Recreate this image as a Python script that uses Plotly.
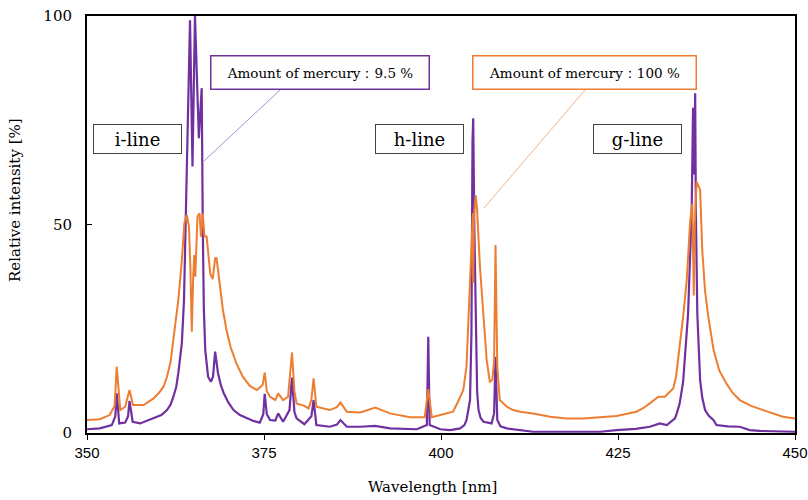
import plotly.graph_objects as go

# Spectrum, amount of mercury 9.5 % (purple)
wl_low = [350.0, 351.8, 353.5, 354.0, 354.2, 354.55, 355.4, 355.8, 356.0, 356.45, 357.5, 359.4, 360.5, 361.3,
          361.8, 362.2, 362.6, 362.9, 363.4, 363.7, 364.0, 364.55, 364.9, 365.25, 365.8, 366.2, 366.35, 366.5,
          366.7, 367.1, 367.5, 367.8, 368.1, 368.5, 368.9, 369.3, 370.0, 370.7, 371.6, 372.6, 373.5, 374.4,
          374.9, 375.1, 375.4, 375.85, 376.6, 377.0, 377.7, 378.6, 378.95, 379.3, 379.6, 380.7, 381.7, 382.0,
          382.4, 384.3, 385.3, 385.8, 386.7, 388.6, 390.7, 392.8, 396.6, 398.0, 398.2, 398.4, 399.9, 401.3,
          402.7, 403.3, 403.6, 404.1, 404.3, 404.45, 404.55, 404.7, 404.9, 405.1, 405.3, 405.6, 406.0,
          407.15, 407.5, 407.7, 407.95, 408.4, 409.3, 411.2, 413.0, 415.4, 422.5, 424.8, 427.5, 429.5,
          430.9, 431.9, 433.05, 433.3, 433.7, 434.2, 434.9, 435.4, 435.6, 435.75, 435.9, 436.0, 436.2,
          436.6, 436.9, 437.3, 437.8, 438.5, 438.9, 440.5, 442.2, 443.6, 445.0, 450.0]
int_low = [0.9, 1.1, 1.9, 4.0, 9.5, 2.3, 2.5, 4.0, 7.7, 2.7, 2.3, 3.5, 4.3, 5.5,
           6.8, 8.7, 11.0, 14.4, 21.6, 31.9, 55.9, 99.0, 63.9, 100.0, 70.7, 82.7, 50.0, 30.0,
           19.9, 13.5, 12.3, 13.5, 19.5, 14.4, 11.5, 9.6, 7.2, 5.5, 4.3, 3.5, 2.9, 2.5,
           4.5, 9.4, 4.5, 3.1, 3.0, 4.7, 2.7, 5.5, 13.3, 5.0, 3.5, 2.1, 4.0, 7.9,
           1.9, 1.5, 2.0, 3.1, 1.5, 1.5, 1.7, 1.1, 0.9, 1.9, 23.1, 1.9, 0.9, 0.7,
           1.1, 1.9, 3.1, 7.9, 24.0, 70.0, 75.5, 50.0, 24.0, 10.0, 5.5, 3.6, 2.7,
           2.3, 4.7, 18.3, 3.1, 1.6, 1.1, 0.7, 0.3, 0.3, 0.3, 0.7, 1.0, 1.5,
           2.3, 1.9, 3.5, 4.7, 7.0, 12.3, 28.7, 52.7, 78.0, 62.0, 81.5, 52.7, 28.7,
           12.7, 8.5, 5.5, 4.2, 3.1, 1.9, 1.6, 1.5, 0.7, 0.5, 0.3]

# Spectrum, amount of mercury 100 % (orange)
wl_high = [350.0, 351.8, 353.2, 353.9, 354.2, 354.7, 355.4, 356.0, 356.5, 358.0, 359.4, 360.2, 360.8, 361.3,
           361.8, 362.2, 362.9, 363.4, 363.75, 364.1, 364.4, 364.6, 364.8, 365.0, 365.15, 365.3, 365.6,
           365.9, 366.1, 366.35, 366.6, 366.9, 367.4, 367.75, 368.1, 368.3, 368.8, 369.2, 369.7, 370.3,
           371.1, 372.0, 373.0, 374.0, 374.8, 375.1, 375.4, 375.85, 376.6, 377.0, 377.7, 378.4, 378.95,
           379.3, 379.6, 380.7, 381.3, 381.7, 382.0, 382.4, 384.3, 385.3, 385.8, 386.7, 388.6, 390.7,
           392.8, 395.6, 397.7, 398.2, 398.7, 399.9, 401.7, 402.4, 403.15, 403.6, 404.0, 404.3, 404.5,
           404.55, 404.65, 404.9, 405.1, 405.5, 406.0, 406.45, 406.9, 407.25, 407.5, 407.7, 407.95,
           408.3, 409.3, 410.2, 411.2, 413.0, 415.4, 417.75, 420.1, 422.5, 424.8, 427.6, 428.6, 429.5,
           430.7, 431.6, 432.8, 433.2, 433.5, 434.2, 434.7, 435.2, 435.5, 435.7, 435.85, 436.1, 436.6,
           436.9, 437.3, 437.75, 438.5, 439.3, 440.3, 441.2, 442.2, 443.8, 445.5, 448.3, 450.0]
int_high = [3.1, 3.3, 4.3, 6.5, 15.9, 5.5, 6.3, 10.3, 6.7, 6.7, 8.3, 9.7, 11.1, 13.5,
            17.0, 22.3, 31.9, 41.5, 50.3, 52.3, 49.5, 39.9, 24.3, 37.5, 42.7, 37.5, 51.9,
            52.7, 47.1, 52.7, 47.1, 47.1, 38.3, 36.9, 41.9, 41.9, 34.3, 29.5, 24.7, 20.5,
            16.7, 13.5, 11.3, 10.3, 11.5, 14.5, 10.0, 8.7, 7.9, 9.5, 7.9, 8.7, 19.3,
            10.0, 7.1, 6.5, 5.9, 8.0, 13.1, 6.3, 5.5, 6.2, 7.3, 5.1, 4.9, 6.1,
            4.7, 3.8, 3.8, 10.5, 3.8, 4.3, 5.1, 7.5, 10.3, 15.9, 31.9, 47.9, 52.7,
            36.0, 52.0, 57.0, 53.5, 39.9, 27.9, 17.5, 12.3, 12.7, 17.5, 45.1, 15.9,
            7.9, 6.3, 5.5, 5.1, 4.7, 3.9, 3.5, 3.5, 3.8, 4.1, 5.1, 6.0, 7.1,
            8.7, 8.7, 10.7, 13.5, 17.5, 27.9, 36.5, 51.0, 55.0, 33.0, 50.0, 60.3, 58.3,
            43.9, 34.0, 27.9, 19.9, 15.0, 11.9, 9.6, 7.9, 6.5, 5.5, 3.9, 3.5]

x_ticks = [350, 375, 400, 425, 450]
y_ticks = [0, 50, 100]
line_labels = ["i-line", "h-line", "g-line"]
series_labels = ["Amount of mercury：9.5 %", "Amount of mercury：100 %"]

PURPLE = "#7030A0"
ORANGE = "#ED7D31"
SERIF = "DejaVu Serif"

fig = go.Figure()
fig.add_trace(go.Scatter(x=wl_low, y=int_low, mode="lines", line=dict(color=PURPLE, width=2.2),
                         name=series_labels[0], showlegend=False))
fig.add_trace(go.Scatter(x=wl_high, y=int_high, mode="lines", line=dict(color=ORANGE, width=2),
                         name=series_labels[1], showlegend=False))

L, R, T, B = 87, 795, 16, 433
W, H = R - L, B - T

def px(xp):
    return (xp - L) / W

def py(yp):
    return (B - yp) / H

annotations = []
for label, cx in zip(line_labels, [137, 419.4, 637.3]):
    annotations.append(dict(x=px(cx), y=py(139), xref="paper", yref="paper", text=label,
                            showarrow=False, font=dict(family=SERIF, size=18, color="black"),
                            bgcolor="white", bordercolor="#444", borderwidth=1, borderpad=0,
                            width=87, height=28, xanchor="center", yanchor="middle"))
for label, cx, w, col in [(series_labels[0], 320.4, 217, PURPLE), (series_labels[1], 584.7, 222, ORANGE)]:
    annotations.append(dict(x=px(cx), y=py(72.5), xref="paper", yref="paper", text=label,
                            showarrow=False, font=dict(family=SERIF, size=13.5, color="black"),
                            bgcolor="white", bordercolor=col, borderwidth=1.5, borderpad=0,
                            width=w, height=32, xanchor="center", yanchor="middle"))
annotations.append(dict(x=px(15), y=py(200), xref="paper", yref="paper", text="Relative intensity [%]",
                        textangle=-90, showarrow=False, font=dict(family=SERIF, size=15, color="black"),
                        xanchor="center", yanchor="middle"))
annotations.append(dict(x=px(432), y=py(487), xref="paper", yref="paper", text="Wavelength [nm]",
                        showarrow=False, font=dict(family=SERIF, size=15, color="black"),
                        xanchor="center", yanchor="middle"))

shapes = [
    dict(type="line", xref="paper", yref="paper", x0=px(280), y0=py(90), x1=px(204), y1=py(161),
         line=dict(color="rgba(112,48,160,0.55)", width=1)),
    dict(type="line", xref="paper", yref="paper", x0=px(585), y0=py(90), x1=px(484), y1=py(208),
         line=dict(color="rgba(237,125,49,0.6)", width=1)),
]

fig.update_layout(
    template="none",
    width=808, height=500,
    margin=dict(l=L, r=808 - R, t=T, b=500 - B, pad=0, autoexpand=False),
    paper_bgcolor="white", plot_bgcolor="white",
    annotations=annotations, shapes=shapes,
    xaxis=dict(range=[350, 450], tickvals=x_ticks, ticktext=[str(v) for v in x_ticks],
               automargin=False,
               showgrid=False, zeroline=False, showline=True, linecolor="black", linewidth=2,
               mirror=True, ticks="outside", ticklen=5, tickcolor="black", tickwidth=1,
               tickfont=dict(family="Liberation Sans", size=15, color="black")),
    yaxis=dict(range=[0, 100], tickvals=y_ticks, ticktext=[str(v) for v in y_ticks],
               automargin=False,
               showgrid=False, zeroline=False, showline=True, linecolor="black", linewidth=2,
               mirror=True, ticks="inside", ticklen=5, tickcolor="black", tickwidth=1,
               ticklabelstandoff=10,
               tickfont=dict(family=SERIF, size=15, color="black")),
)

fig.write_html("out.html", config={"displayModeBar": False},
               post_script="document.body.style.margin='0';document.body.style.overflow='hidden';")
